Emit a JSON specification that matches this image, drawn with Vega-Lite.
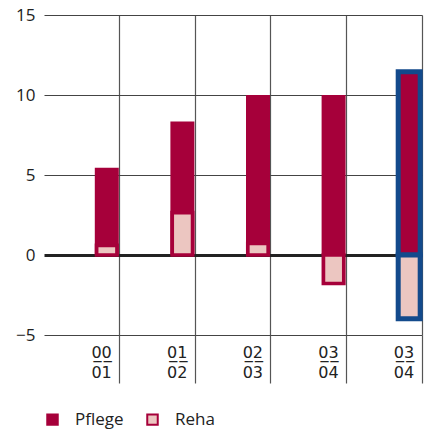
{
  "$schema": "https://vega.github.io/schema/vega-lite/v6.json",
  "width": 378,
  "height": 320,
  "autosize": "none",
  "padding": {"left": 44, "top": 15, "right": 2, "bottom": 94},
  "background": "white",
  "config": {"view": {"stroke": null}, "font": "Open Sans"},
  "data": {
    "values": [
      {"period": "00/01", "series": "Pflege", "value": 5.45},
      {"period": "00/01", "series": "Reha", "value": 0.6},
      {"period": "01/02", "series": "Pflege", "value": 8.35},
      {"period": "01/02", "series": "Reha", "value": 2.65},
      {"period": "02/03", "series": "Pflege", "value": 10.0},
      {"period": "02/03", "series": "Reha", "value": 0.72},
      {"period": "03/04", "series": "Pflege", "value": 10.0},
      {"period": "03/04", "series": "Reha", "value": -1.78},
      {"period": "03/04*", "series": "Pflege", "value": 11.45},
      {"period": "03/04*", "series": "Reha", "value": -3.98}
    ]
  },
  "encoding": {
    "x": {
      "field": "period",
      "type": "nominal",
      "sort": null,
      "scale": {"paddingInner": 0, "paddingOuter": 0},
      "axis": {
        "title": null,
        "domain": false,
        "bandPosition": 1,
        "grid": true,
        "gridColor": "#555555",
        "gridWidth": 1.2,
        "ticks": true,
        "tickSize": 48,
        "tickColor": "#555555",
        "tickWidth": 1.2,
        "labelAngle": 0,
        "labelAlign": "right",
        "labelBaseline": "top",
        "labelOffset": 30,
        "labelPadding": -39,
        "labelFont": "DejaVu Sans",
        "labelFontSize": 16,
        "labelLineHeight": 20,
        "labelColor": "#222222",
        "labelExpr": "[substring(datum.label,0,1)+'\u0332'+substring(datum.label,1,2)+'\u0332', substring(datum.label,3,5)]"
      }
    }
  },
  "layer": [
    {
      "transform": [{"filter": "datum.series === 'Pflege'"}],
      "mark": {"type": "bar", "xOffset": 25},
      "encoding": {
        "y": {
          "field": "value",
          "type": "quantitative",
          "scale": {"domain": [-5, 15], "nice": false},
          "axis": {
            "title": null,
            "values": [-5, 0, 5, 10, 15],
            "domain": false,
            "ticks": false,
            "labelFontSize": 17,
            "labelPadding": 9,
            "labelColor": "#222222",
            "gridColor": {"condition": {"test": "datum.value === 0", "value": "#222222"}, "value": "#444444"},
            "gridWidth": {"condition": {"test": "datum.value === 0", "value": 3}, "value": 1.2}
          }
        },
        "fill": {
          "field": "series",
          "type": "nominal",
          "scale": {"domain": ["Pflege", "Reha"], "range": ["#a6003a", "#ecc6c1"]},
          "legend": {
            "orient": "bottom",
            "title": null,
            "direction": "horizontal",
            "symbolType": "square",
            "symbolSize": 110,
            "symbolStrokeColor": "#a6003a",
            "symbolStrokeWidth": 2,
            "labelFontSize": 17,
            "labelColor": "#222222",
            "labelOffset": 14,
            "columnPadding": 19,
            "offset": 27
          }
        },
        "stroke": {"condition": {"test": "datum.period === '03/04*'", "value": "#134a8c"}, "value": "#a6003a"},
        "strokeWidth": {"condition": {"test": "datum.period === '03/04*'", "value": 5}, "value": 0},
        "size": {"condition": {"test": "datum.period === '03/04*'", "value": 22}, "value": 24}
      }
    },
    {
      "transform": [{"filter": "datum.series === 'Reha'"}],
      "mark": {"type": "bar", "xOffset": 25},
      "encoding": {
        "y": {"field": "value", "type": "quantitative"},
        "fill": {"field": "series", "type": "nominal"},
        "stroke": {"condition": {"test": "datum.period === '03/04*'", "value": "#134a8c"}, "value": "#a6003a"},
        "strokeWidth": {"condition": {"test": "datum.period === '03/04*'", "value": 5}, "value": 3.7},
        "size": {"condition": {"test": "datum.period === '03/04*'", "value": 22}, "value": 20.4}
      }
    }
  ]
}
